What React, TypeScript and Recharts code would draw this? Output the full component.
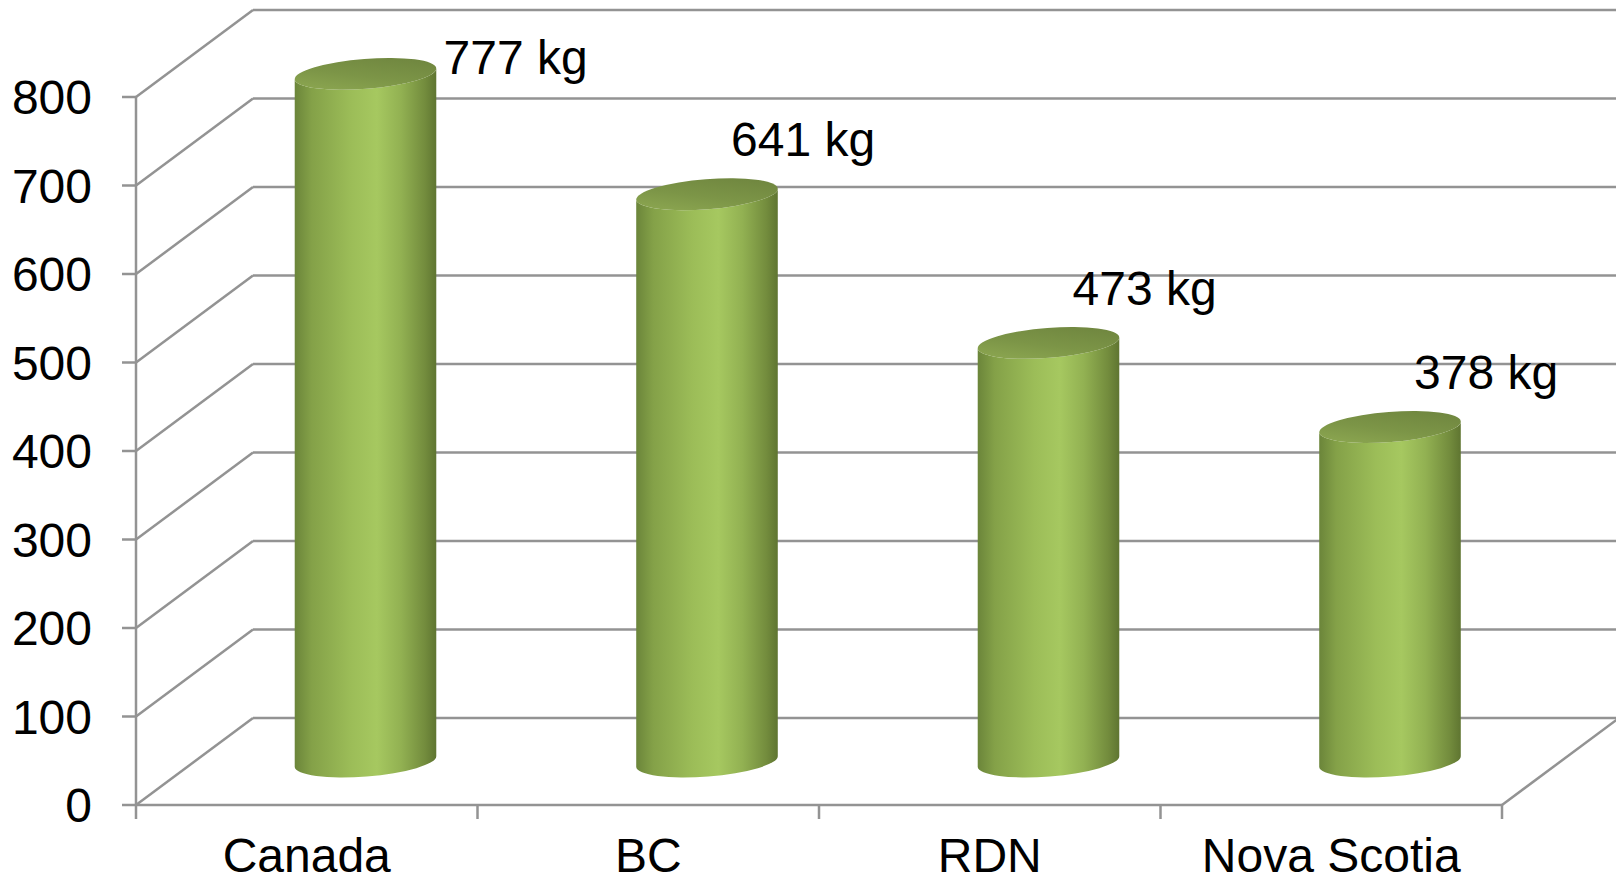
import React from 'react';
import { BarChart, Bar, XAxis, YAxis, CartesianGrid, LabelList } from 'recharts';

// Per-capita waste, kg per person
const categories = ['Canada', 'BC', 'RDN', 'Nova Scotia'];
const wasteKg = [777, 641, 473, 378];
const yTicks = [0, 100, 200, 300, 400, 500, 600, 700, 800];

const data = categories.map((name, i) => ({ name, kg: wasteKg[i] }));

const WIDTH = 1616;
const HEIGHT = 883;
const MARGIN = { top: 97, right: 114, bottom: 0, left: 0 };
const X_AXIS_HEIGHT = 78;
const PLOT_BOTTOM = HEIGHT - MARGIN.bottom - X_AXIS_HEIGHT;

// fake 3D depth of the walls / floor
const DEPTH_X = 117;
const DEPTH_Y = -87;
const TILT = -4.5; // ellipse tilt, degrees
const RY = 15;

const GRID = '#939393';
const FONT = '"Liberation Sans", Arial, Helvetica, sans-serif';
const FONT_SIZE = 48;

// each horizontal grid line becomes a side-wall diagonal plus a back-wall line
const WallLine = (props: any) => {
  const { x1, y1, x2 } = props;
  const bx = x1 + DEPTH_X;
  const by = y1 + DEPTH_Y;
  const isFloor = Math.abs(y1 - PLOT_BOTTOM) < 1;
  const n = categories.length;
  return (
    <g>
      <line x1={x1} y1={y1} x2={bx} y2={by} stroke={GRID} strokeWidth={2.5} />
      <line x1={bx} y1={by} x2={WIDTH + 20} y2={by} stroke={GRID} strokeWidth={2.5} />
      {isFloor && (
        <line x1={x2} y1={y1} x2={x2 + DEPTH_X} y2={y1 + DEPTH_Y} stroke={GRID} strokeWidth={2.5} />
      )}
      {isFloor &&
        Array.from({ length: n + 1 }, (_, i) => {
          const tx = x1 + (i * (x2 - x1)) / n;
          return <line key={i} x1={tx} y1={y1} x2={tx} y2={y1 + 14} stroke={GRID} strokeWidth={2.5} />;
        })}
    </g>
  );
};

const Cylinder = (props: any) => {
  const { x, y, width, height, index } = props;
  if (!width || height == null) return null;
  const rx = width / 2;
  const a = (TILT * Math.PI) / 180;
  const ex = rx * Math.cos(a);
  const ey = rx * Math.sin(a);
  const cx = x + rx + DEPTH_X / 2;
  const top = y + DEPTH_Y / 2;
  const bottom = y + height + DEPTH_Y / 2;
  const bodyId = `cylBody${index}`;
  const topId = `cylTop${index}`;
  const body =
    `M${cx - ex},${top - ey} L${cx - ex},${bottom - ey} ` +
    `A${rx},${RY} ${TILT} 0 0 ${cx + ex},${bottom + ey} ` +
    `L${cx + ex},${top + ey} ` +
    `A${rx},${RY} ${TILT} 0 1 ${cx - ex},${top - ey} Z`;
  return (
    <g>
      <defs>
        <linearGradient id={bodyId} x1="0" y1="0" x2="1" y2="0">
          <stop offset="0%" stopColor="#6b853a" />
          <stop offset="12%" stopColor="#84a148" />
          <stop offset="40%" stopColor="#9cbd58" />
          <stop offset="58%" stopColor="#a6c860" />
          <stop offset="75%" stopColor="#92b152" />
          <stop offset="92%" stopColor="#738c3d" />
          <stop offset="100%" stopColor="#5f7531" />
        </linearGradient>
        <linearGradient id={topId} x1="0" y1="1" x2="1" y2="0">
          <stop offset="0%" stopColor="#90ab53" />
          <stop offset="45%" stopColor="#7c9547" />
          <stop offset="100%" stopColor="#6c823d" />
        </linearGradient>
      </defs>
      <path d={body} fill={`url(#${bodyId})`} />
      <ellipse
        cx={cx}
        cy={top}
        rx={rx}
        ry={RY}
        transform={`rotate(${TILT} ${cx} ${top})`}
        fill={`url(#${topId})`}
      />
    </g>
  );
};

// value label above the cylinder top, pushed to the side when it would run off the top
const KgLabel = (props: any) => {
  const vb = props.viewBox || {};
  const x = props.x ?? vb.x;
  const y = props.y ?? vb.y;
  const width = props.width ?? vb.width;
  const { value } = props;
  if (x == null || y == null) return null;
  const cx = x + width / 2 + DEPTH_X / 2;
  const top = y + DEPTH_Y / 2;
  let lx = cx + 24;
  let ly = top - 55;
  if (ly < 40) {
    lx = cx + width / 2 + 7;
    ly = top - 17;
  }
  return (
    <text x={lx} y={ly} dy="0.355em" fontSize={FONT_SIZE} fontFamily={FONT} fill="#000">
      {`${value} kg`}
    </text>
  );
};

export default function App() {
  return (
    <div style={{ position: 'absolute', left: 0, top: 0, width: WIDTH, height: HEIGHT, background: '#fff' }}>
      <BarChart width={WIDTH} height={HEIGHT} data={data} margin={MARGIN} barSize={142}>
        <CartesianGrid vertical={false} horizontal={WallLine} stroke={GRID} />
        <XAxis
          dataKey="name"
          height={X_AXIS_HEIGHT}
          axisLine={{ stroke: GRID, strokeWidth: 2.5 }}
          tickLine={false}
          tickSize={14}
          tickMargin={19}
          tick={{ fontSize: FONT_SIZE, fill: '#000', fontFamily: FONT }}
          interval={0}
        />
        <YAxis
          width={136}
          domain={[0, 800]}
          ticks={yTicks}
          interval={0}
          axisLine={{ stroke: GRID, strokeWidth: 2.5 }}
          tickLine={{ stroke: GRID, strokeWidth: 2.5 }}
          tickSize={14}
          tickMargin={30}
          tick={{ fontSize: FONT_SIZE, fill: '#000', fontFamily: FONT }}
        />
        <Bar dataKey="kg" shape={Cylinder} isAnimationActive={false}>
          <LabelList dataKey="kg" content={KgLabel} />
        </Bar>
      </BarChart>
    </div>
  );
}
